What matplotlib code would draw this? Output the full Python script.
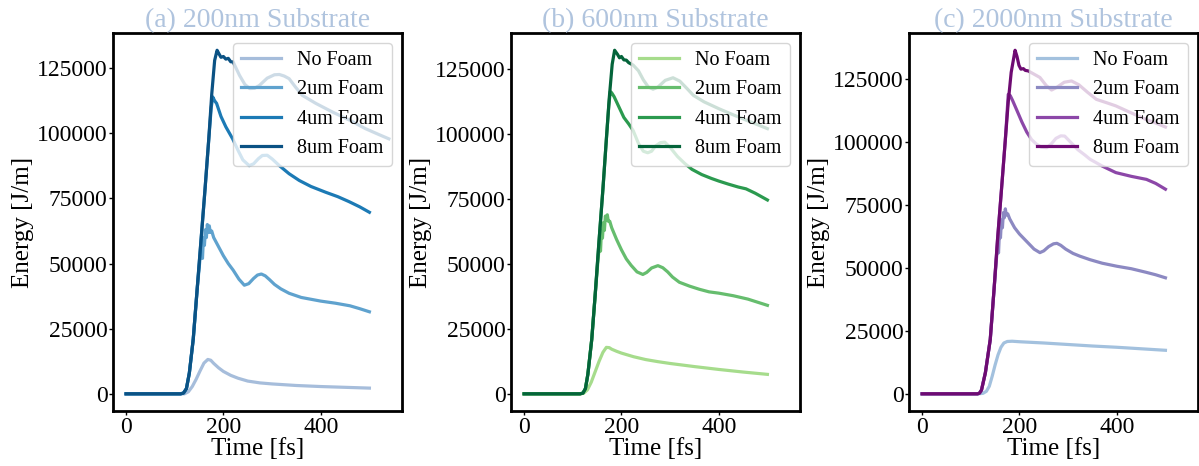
import matplotlib
matplotlib.use("Agg")
import matplotlib.pyplot as plt
from matplotlib.ticker import MultipleLocator

# === Dados (tempo em fs, energia em J/m) ===
legend_labels = ["No Foam", "2um Foam", "4um Foam", "8um Foam"]
panel_titles = ["(a) 200nm Substrate", "(b) 600nm Substrate", "(c) 2000nm Substrate"]

# (a) 200nm
a_none_t = [0, 110, 120, 128, 136, 144, 152, 160, 168, 174, 180, 190, 200, 215, 230, 250, 275, 300, 350, 400, 450, 500]
a_none_e = [0, 0, 0, 800, 2800, 5600, 8800, 11800, 13200, 12900, 11700, 10000, 8600, 7100, 6000, 4900, 4200, 3800, 3200, 2800, 2500, 2200]
a_2um_t = [0, 112, 118, 124, 130, 138, 146, 152, 155, 157, 159, 161, 163, 165, 167, 169, 171, 173, 176, 180,
           190, 200, 210, 220, 232, 243, 252, 262, 270, 278, 286, 295, 305, 318, 335, 360, 400, 430, 460, 480, 500]
a_2um_e = [0, 0, 300, 2000, 8000, 21000, 40000, 52000, 56000, 52000, 60000, 57000, 63000, 60000, 65000, 62000, 64500, 62000, 62500, 60000,
           56500, 53000, 50000, 47500, 44000, 41700, 42300, 44300, 45600, 46000, 45300, 43800, 42000, 40300, 38600, 37000, 35600, 34800, 33800, 32700, 31500]
a_4um_t = [0, 112, 118, 124, 130, 138, 146, 154, 162, 170, 175, 178, 182, 186, 195, 205, 219, 230, 240, 253,
           262, 272, 280, 290, 300, 315, 335, 356, 380, 410, 435, 458, 480, 500]
a_4um_e = [0, 0, 300, 2000, 8000, 21000, 40000, 59000, 78000, 98000, 110000, 114000, 112500, 111500, 106500, 102500, 97900, 93500, 89800, 87600,
           88300, 90300, 91500, 91600, 90200, 87600, 84500, 81900, 79600, 77400, 75700, 73800, 71800, 69700]
a_8um_t = [0, 112, 118, 124, 130, 138, 146, 154, 162, 170, 176, 182, 187, 191, 195, 200, 205, 210, 215, 220,
           233, 244, 254, 264, 274, 290, 305, 315, 325, 335, 348, 362, 390, 424, 460, 492, 520, 540]
a_8um_e = [0, 0, 300, 2000, 8000, 21000, 40000, 59000, 78000, 98000, 115000, 128000, 131900, 130500, 129200, 129500, 128500, 128800, 127500, 127400,
           122300, 118800, 117200, 117300, 118400, 121200, 122500, 122600, 122000, 121000, 117800, 114600, 111500, 108200, 105000, 101800, 99500, 97900]

# (b) 600nm
b_none_t = [0, 115, 122, 130, 138, 146, 154, 162, 169, 175, 180, 190, 200, 225, 250, 275, 300, 350, 400, 450, 500]
b_none_e = [0, 0, 200, 1500, 4500, 8500, 12500, 16000, 17900, 17800, 17200, 16400, 15700, 14300, 13200, 12400, 11700, 10500, 9400, 8400, 7500]
b_2um_t = [0, 115, 121, 126, 131, 139, 146, 152, 155, 157, 159, 161, 163, 165, 167, 169, 171, 173, 176, 180,
           190, 200, 210, 220, 232, 244, 252, 262, 275, 285, 295, 305, 319, 340, 360, 380, 400, 430, 460, 480, 500]
b_2um_e = [0, 0, 300, 2000, 7500, 21000, 38000, 52000, 58000, 55000, 63000, 60000, 66000, 63000, 68500, 67000, 69000, 66500, 66500, 64000,
           59500, 55500, 52000, 49500, 47000, 46000, 46800, 48500, 49400, 48600, 47000, 45000, 43000, 41500, 40300, 39300, 38800, 37800, 36500, 35300, 34100]
b_4um_t = [0, 115, 121, 126, 131, 139, 146, 154, 162, 169, 174, 177, 180, 185, 195, 205, 215, 224, 235, 245,
           254, 262, 270, 280, 289, 300, 315, 330, 345, 365, 385, 400, 420, 440, 456, 475, 500]
b_4um_e = [0, 0, 300, 2000, 7500, 21000, 38000, 59000, 79000, 98000, 111000, 116500, 116000, 114500, 110500, 106500, 104000, 101500, 96500, 93500,
           92900, 93500, 95500, 96800, 97000, 95000, 91500, 88800, 86500, 84500, 83000, 82000, 80800, 79700, 79000, 77300, 74700]
b_8um_t = [0, 115, 121, 126, 131, 139, 146, 154, 162, 169, 175, 181, 186, 192, 196, 200, 205, 210, 215, 224,
           235, 245, 255, 265, 275, 290, 306, 320, 335, 348, 370, 400, 430, 460, 480, 500]
b_8um_e = [0, 0, 300, 2000, 7500, 21000, 38000, 59000, 79000, 98000, 114000, 127000, 132400, 130800, 129500, 130000, 128700, 128600, 127600, 126700,
           124500, 121000, 118300, 117400, 118200, 120800, 121800, 120500, 117600, 115000, 112500, 109900, 107500, 105200, 103700, 102200]

# (c) 2000nm
c_none_t = [0, 115, 125, 132, 138, 144, 150, 156, 162, 168, 175, 185, 200, 250, 300, 350, 400, 450, 500]
c_none_e = [0, 0, 200, 1000, 3000, 7000, 11500, 15500, 18500, 20200, 20800, 20900, 20700, 20200, 19600, 19000, 18500, 17900, 17300]
c_2um_t = [0, 114, 118, 122, 130, 140, 148, 152, 155, 157, 159, 161, 163, 165, 167, 169, 171, 173, 176, 180,
           190, 200, 215, 230, 242, 250, 260, 270, 277, 285, 295, 310, 324, 345, 370, 400, 430, 460, 480, 500]
c_2um_e = [0, 0, 300, 1500, 8400, 21600, 42000, 52000, 59000, 56000, 65000, 62000, 69000, 66000, 72000, 70000, 73500, 71000, 71500, 69500,
           66000, 63500, 60500, 57500, 56100, 56800, 58500, 59600, 59800, 59000, 57500, 55800, 54700, 53300, 51900, 50700, 49700, 48300, 47300, 46100]
c_4um_t = [0, 114, 118, 122, 130, 140, 148, 155, 163, 171, 177, 181, 186, 195, 205, 215, 225, 235, 245, 256,
           265, 275, 285, 293, 305, 320, 335, 345, 370, 398, 430, 461, 480, 500]
c_4um_e = [0, 0, 300, 1500, 8400, 21600, 42000, 61400, 81000, 101000, 119000, 118500, 116500, 112500, 108000, 104000, 101000, 99200, 98000, 97800,
           99200, 101500, 102500, 102400, 100000, 97000, 94800, 93200, 90500, 87900, 86400, 85200, 83600, 81300]
c_8um_t = [0, 114, 118, 122, 130, 140, 148, 155, 163, 171, 177, 183, 191, 195, 199, 203, 208, 212, 218, 230,
           242, 255, 266, 277, 292, 307, 322, 340, 358, 380, 398, 430, 460, 480, 500]
c_8um_e = [0, 0, 300, 1500, 8400, 21600, 42000, 61400, 81000, 101000, 116000, 127700, 136500, 134000, 130500, 129000, 129200, 128500, 128300, 127000,
           125700, 122500, 120700, 121800, 123800, 124300, 122800, 119800, 117000, 115600, 114400, 111600, 109000, 107600, 106000]

# === Cores por painel ===
cores_a = ["#a6bddb", "#5fa2ce", "#1c7ab5", "#0b5284"]
cores_b = ["#a6dc8c", "#66bd6e", "#2b9a4f", "#04643a"]
cores_c = ["#a3c1de", "#8c89c2", "#8c47a8", "#6e0b72"]

paineis = [
    ([(a_none_t, a_none_e), (a_2um_t, a_2um_e), (a_4um_t, a_4um_e), (a_8um_t, a_8um_e)], cores_a),
    ([(b_none_t, b_none_e), (b_2um_t, b_2um_e), (b_4um_t, b_4um_e), (b_8um_t, b_8um_e)], cores_b),
    ([(c_none_t, c_none_e), (c_2um_t, c_2um_e), (c_4um_t, c_4um_e), (c_8um_t, c_8um_e)], cores_c),
]

plt.rcParams["font.family"] = ["Liberation Serif", "DejaVu Serif"]

fig, axes = plt.subplots(1, 3, figsize=(11.99, 4.66), dpi=100, sharex=True)
fig.subplots_adjust(left=0.0942, right=0.9992, bottom=0.118, top=0.929, wspace=0.377)

for ax, (curvas, cores), titulo in zip(axes, paineis, panel_titles):
    for (t, e), cor, rotulo in zip(curvas, cores, legend_labels):
        ax.plot(t, e, color=cor, lw=2.3, label=rotulo)
    ax.set_title(titulo, fontsize=20, color="#b0c4de", pad=3)
    ax.set_xlabel("Time [fs]", fontsize=18, labelpad=0)
    ax.set_ylabel("Energy [J/m]", fontsize=18, labelpad=2)
    ax.tick_params(labelsize=17, width=1, length=3, pad=1)
    ax.set_xticks([0, 200, 400])
    ax.yaxis.set_major_locator(MultipleLocator(25000))
    for s in ax.spines.values():
        s.set_linewidth(2)
    ax.legend(loc="upper right", fontsize=14.5)

plt.savefig("out.png", dpi=100)
